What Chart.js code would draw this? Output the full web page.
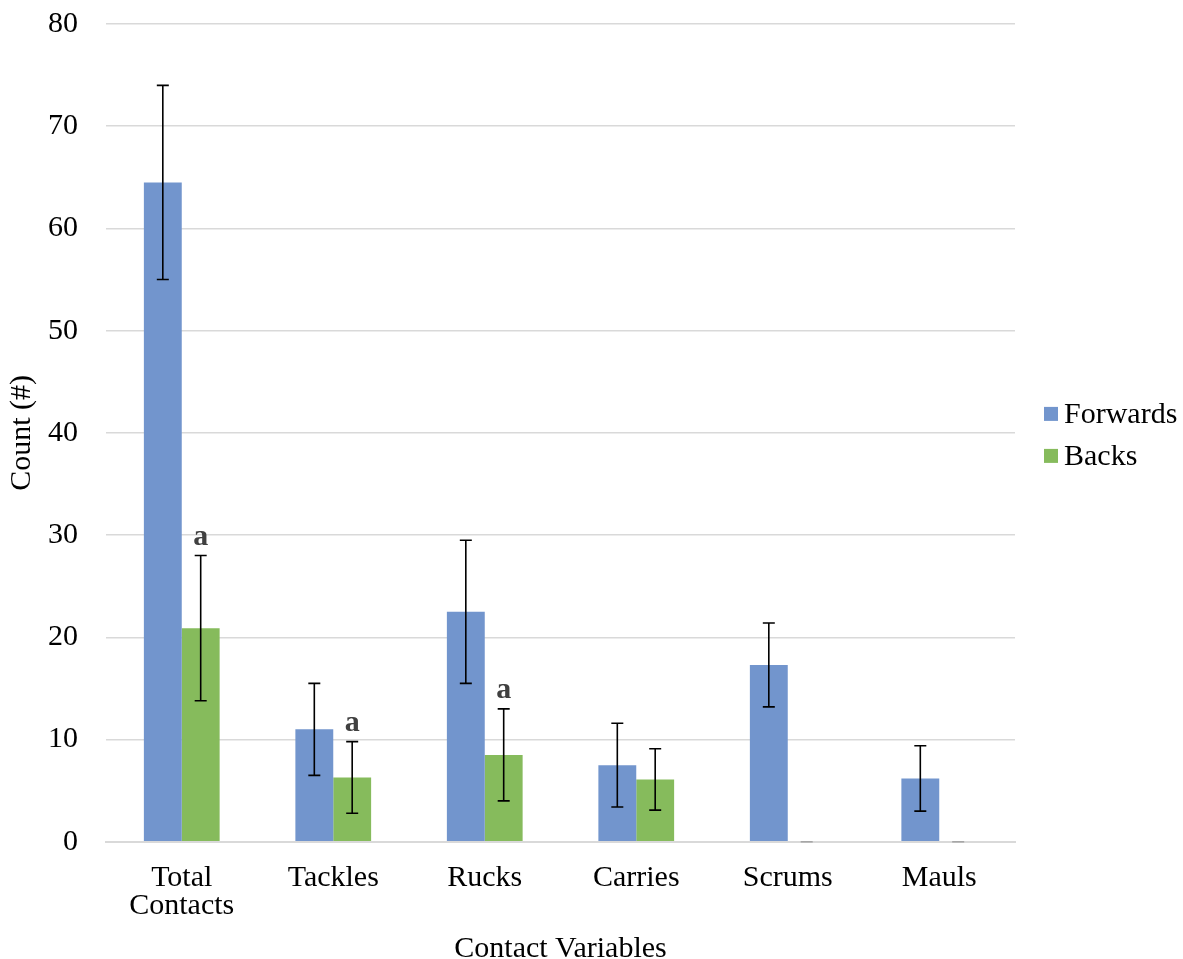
<!DOCTYPE html>
<html>
<head>
<meta charset="utf-8">
<script src="https://cdn.jsdelivr.net/npm/chart.js@4"></script>
<style>
  html, body { margin: 0; padding: 0; background: #ffffff; }
  #wrap { width: 1183px; height: 959px; }
</style>
</head>
<body>
<div id="wrap"><canvas id="c" width="1183" height="959"></canvas></div>
<script>
// Contact counts per match (mean ± SD) by position group
const categories = [["Total", "Contacts"], "Tackles", "Rucks", "Carries", "Scrums", "Mauls"];
const forwardsMean = [64.5, 11.0, 22.5, 7.5, 17.3, 6.2];
const forwardsSD   = [9.5, 4.5, 7.0, 4.1, 4.1, 3.2];
const backsMean    = [20.9, 6.3, 8.5, 6.1, 0, 0];
const backsSD      = [7.1, 3.5, 4.5, 3.0, 0, 0];
// significance marks drawn above the Backs error bars
const backsMarks   = ["a", "a", "a", "", "", ""];
const yTicks = [0, 10, 20, 30, 40, 50, 60, 70, 80];

const serif = '"Liberation Serif", "Times New Roman", serif';
const FS = 30;

const errorBars = {
  id: 'errorBars',
  afterDatasetsDraw(chart) {
    const ctx = chart.ctx;
    const y = chart.scales.y;
    chart.data.datasets.forEach((ds, di) => {
      const meta = chart.getDatasetMeta(di);
      meta.data.forEach((bar, i) => {
        const sd = ds.sd[i];
        const v = ds.data[i];
        const top = y.getPixelForValue(v + sd);
        const bot = y.getPixelForValue(v - sd);
        const x = bar.x;
        ctx.save();
        if (!sd) {
          // zero spread: only the flat cap remains on the baseline
          ctx.strokeStyle = '#a6a6a6';
          ctx.lineWidth = 1.6;
          ctx.beginPath();
          ctx.moveTo(x - 6, top); ctx.lineTo(x + 6, top);
          ctx.stroke();
          ctx.restore();
          return;
        }
        ctx.strokeStyle = '#000000';
        ctx.lineWidth = 1.6;
        ctx.beginPath();
        ctx.moveTo(x, top); ctx.lineTo(x, bot);
        ctx.moveTo(x - 6, top); ctx.lineTo(x + 6, top);
        ctx.moveTo(x - 6, bot); ctx.lineTo(x + 6, bot);
        ctx.stroke();
        const mark = ds.marks ? ds.marks[i] : '';
        if (mark) {
          ctx.fillStyle = '#404040';
          ctx.font = 'bold ' + FS + 'px ' + serif;
          ctx.textAlign = 'center';
          ctx.textBaseline = 'alphabetic';
          ctx.fillText(mark, x, top - 11);
        }
        ctx.restore();
      });
    });
  }
};

// Legend at the right, drawn from the datasets' labels and colours
const sideLegend = {
  id: 'sideLegend',
  afterDraw(chart) {
    const ctx = chart.ctx;
    const area = chart.chartArea;
    const ds = chart.data.datasets;
    const rowH = 42;
    const startY = (area.top + area.bottom) / 2 - rowH * (ds.length - 1) / 2 + 2;
    const boxX = area.right + 29;
    ctx.save();
    ctx.font = FS + 'px ' + serif;
    ctx.textBaseline = 'middle';
    ctx.textAlign = 'left';
    ds.forEach((d, i) => {
      const cy = startY + i * rowH;
      ctx.fillStyle = d.backgroundColor;
      ctx.fillRect(boxX, cy - 7, 14, 14);
      ctx.fillStyle = '#000000';
      ctx.fillText(d.label, boxX + 20, cy + 1);
    });
    ctx.restore();
  }
};

new Chart(document.getElementById('c'), {
  type: 'bar',
  data: {
    labels: categories,
    datasets: [
      { label: 'Forwards', data: forwardsMean, sd: forwardsSD,
        backgroundColor: '#7295CD', borderWidth: 0 },
      { label: 'Backs', data: backsMean, sd: backsSD, marks: backsMarks,
        backgroundColor: '#86BB5C', borderWidth: 0 }
    ]
  },
  options: {
    responsive: false,
    animation: false,
    devicePixelRatio: 1,
    layout: { padding: { left: 4, right: 168, top: 0, bottom: -8 } },
    datasets: { bar: { barPercentage: 1.0, categoryPercentage: 0.5 } },
    plugins: {
      legend: { display: false },
      tooltip: { enabled: false }
    },
    scales: {
      x: {
        grid: { display: false, drawTicks: false },
        border: { color: '#d9d9d9', width: 2 },
        ticks: { font: { family: serif, size: FS, lineHeight: 0.92 }, color: '#000000', padding: 23, maxRotation: 0 },
        title: { display: true, text: 'Contact Variables', font: { family: serif, size: FS }, color: '#000000', padding: { top: -12, bottom: 0 } }
      },
      y: {
        min: 0, max: 80,
        afterBuildTicks(scale) { scale.ticks = yTicks.map(v => ({ value: v })); },
        grid: { color: '#d9d9d9', lineWidth: 1.5, drawTicks: true, tickLength: 22, tickColor: 'rgba(0,0,0,0)' },
        border: { display: false },
        ticks: { font: { family: serif, size: FS }, color: '#000000', padding: 6 },
        title: { display: true, text: 'Count (#)', font: { family: serif, size: FS }, color: '#000000', padding: { top: 0, bottom: 2 } }
      }
    }
  },
  plugins: [errorBars, sideLegend]
});
</script>
</body>
</html>
